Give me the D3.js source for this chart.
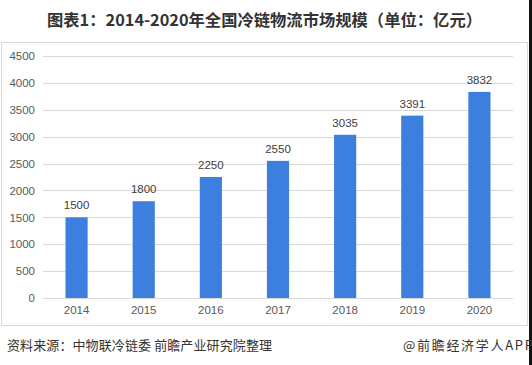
<!DOCTYPE html>
<html><head><meta charset="utf-8">
<script src="https://cdn.jsdelivr.net/npm/d3@7"></script>
<style>body{margin:0;background:#fff;}svg{display:block;}</style>
</head><body>
<svg id="c" width="532" height="365"></svg>
<script>
const categories = ["2014","2015","2016","2017","2018","2019","2020"];
const values = [1500,1800,2250,2550,3035,3391,3832];
const yTicks = [0,500,1000,1500,2000,2500,3000,3500,4000,4500];
const title = "图表1：2014-2020年全国冷链物流市场规模（单位：亿元）";
const source = "资料来源：中物联冷链委 前瞻产业研究院整理";
const credit = "@前瞻经济学人APP";

const svg = d3.select("#c");
const font = "'Microsoft YaHei','Noto Sans CJK SC',sans-serif";
const numFont = "'Liberation Sans',Arial,sans-serif";
svg.append("rect").attr("x",0).attr("y",0).attr("width",532).attr("height",365).attr("fill","#fff");
svg.append("rect").attr("x",1.5).attr("y",42.5).attr("width",526).attr("height",283)
  .attr("fill","none").attr("stroke","#d9d9d9").attr("stroke-width",1);
svg.append("rect").attr("x",529).attr("y",0).attr("width",3).attr("height",365).attr("fill","#111");

svg.append("text").attr("x",264.5).attr("y",26).attr("text-anchor","middle")
  .attr("font-family",font).attr("font-size",16.3).attr("font-weight","bold").attr("fill","#333")
  .attr("textLength",435).attr("lengthAdjust","spacingAndGlyphs").text(title);

const x = d3.scaleBand().domain(categories).range([43,513]).paddingInner(0.67).paddingOuter(0.335);
const y = d3.scaleLinear().domain([0,4500]).range([298,56]);

const g = svg.append("g");
g.selectAll("line.grid").data(yTicks).join("line").attr("class","grid")
  .attr("x1",43).attr("x2",513).attr("y1",d=>Math.round(y(d))+0.5).attr("y2",d=>Math.round(y(d))+0.5)
  .attr("stroke","#d9d9d9").attr("stroke-width",1);

const yAxis = d3.axisLeft(y).tickValues(yTicks).tickFormat(d3.format("d")).tickSize(0).tickPadding(8);
svg.append("g").attr("transform","translate(43,0)").call(yAxis)
  .call(a=>a.select(".domain").remove())
  .call(a=>a.selectAll("text").attr("font-family",numFont).attr("font-size",11.5).attr("fill","#595959"));

const xAxis = d3.axisBottom(x).tickSize(0).tickPadding(8);
svg.append("g").attr("transform","translate(0,298)").call(xAxis)
  .call(a=>a.select(".domain").remove())
  .call(a=>a.selectAll("text").attr("font-family",numFont).attr("font-size",11.5).attr("fill","#595959"));

g.selectAll("rect.bar").data(values).join("rect").attr("class","bar")
  .attr("x",(d,i)=>x(categories[i])).attr("width",x.bandwidth())
  .attr("y",d=>y(d)).attr("height",d=>y(0)-y(d)).attr("fill","#3d7fdf");

g.selectAll("text.lbl").data(values).join("text").attr("class","lbl")
  .attr("x",(d,i)=>x(categories[i])+x.bandwidth()/2).attr("y",d=>y(d)-8)
  .attr("text-anchor","middle").attr("font-family",numFont)
  .attr("font-size",11.5).attr("fill","#404040").text(d=>d);

svg.append("text").attr("x",7).attr("y",350).attr("font-family",font).attr("font-size",13)
  .attr("fill","#333").attr("textLength",265).attr("lengthAdjust","spacing").text(source);
svg.append("text").attr("x",403).attr("y",350).attr("font-family",font).attr("font-size",13)
  .attr("fill","#333").attr("textLength",130).attr("lengthAdjust","spacing").text(credit);
</script>
</body></html>
